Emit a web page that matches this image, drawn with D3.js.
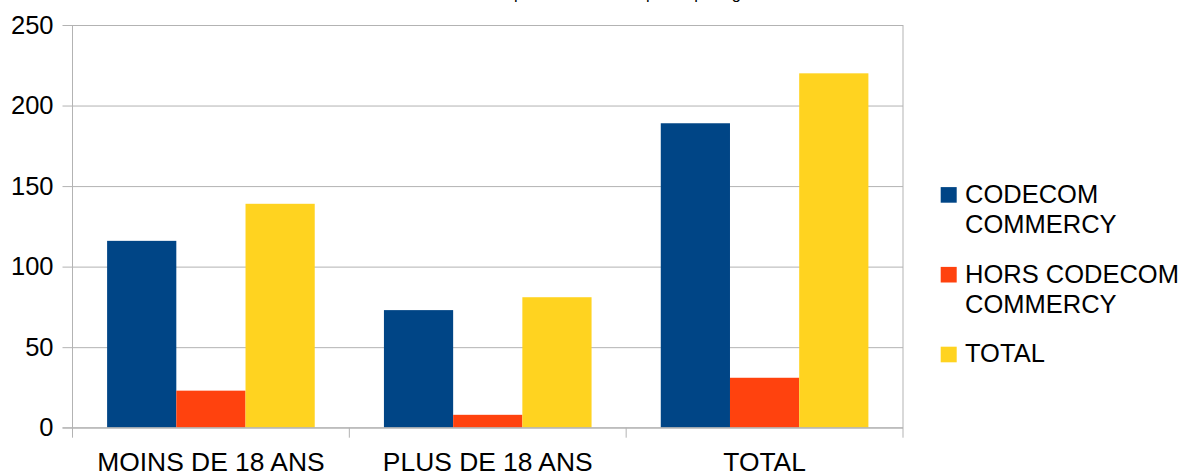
<!DOCTYPE html>
<html>
<head>
<meta charset="utf-8">
<script src="https://cdn.jsdelivr.net/npm/d3@7"></script>
<style>
  body { margin: 0; background: #fff; }
  svg { display: block; font-family: "Liberation Sans", Arial, sans-serif; }
</style>
</head>
<body>
<div id="chart"></div>
<script>
// values
var categories = ['MOINS DE 18 ANS', 'PLUS DE 18 ANS', 'TOTAL'];
var seriesNames = ['CODECOM COMMERCY', 'HORS CODECOM COMMERCY', 'TOTAL'];
var legendLines = [['CODECOM', 'COMMERCY'], ['HORS CODECOM', 'COMMERCY'], ['TOTAL']];
var codecom = [116, 73, 189];
var horsCodecom = [23, 8, 31];
var total = [139, 81, 220];
var yTicks = [0, 50, 100, 150, 200, 250];
var titleText = 'Répartition des inscriptions par âge';

var colors = ['#004586', '#ff420e', '#ffd320'];
var seriesValues = [codecom, horsCodecom, total];

var width = 1182;
var height = 473;
// note: "top" is taken by window.top, so plot* names
var plotLeft = 72.5, plotRight = 903, plotTop = 25, plotBottom = 427.7;
var fontSize = 25.5;

var svg = d3.select('#chart').append('svg')
  .attr('width', width)
  .attr('height', height);

var x0 = d3.scaleBand().domain(categories).range([plotLeft, plotRight]).padding(0);
var bw = x0.bandwidth();
var x1 = d3.scaleBand().domain(seriesNames).range([bw * 0.125, bw * 0.875]).padding(0);
var y = d3.scaleLinear().domain([0, 250]).range([plotBottom, plotTop]);

// title, only the descenders show at the top edge
svg.append('text')
  .attr('x', 493)
  .attr('y', -0.8)
  .style('font-size', '16.4px')
  .attr('fill', '#000')
  .text(titleText);

// grid + y labels
var yAxis = svg.append('g')
  .attr('transform', 'translate(' + plotLeft + ',0)')
  .call(d3.axisLeft(y).tickValues(yTicks).tickSize(10).tickPadding(9));
yAxis.select('.domain').remove();
yAxis.selectAll('line')
  .attr('x1', -10)
  .attr('x2', plotRight - plotLeft)
  .attr('stroke', '#b3b3b3');
yAxis.selectAll('text')
  .style('font-size', fontSize + 'px')
  .style('font-family', '"Liberation Sans", Arial, sans-serif')
  .attr('fill', '#000');

// bars
var groups = svg.append('g').selectAll('g')
  .data(categories)
  .enter().append('g')
  .attr('transform', function (d) { return 'translate(' + x0(d) + ',0)'; });

groups.selectAll('rect')
  .data(function (d, i) {
    return seriesNames.map(function (s, j) { return { s: s, v: seriesValues[j][i], j: j }; });
  })
  .enter().append('rect')
  .attr('x', function (d) { return x1(d.s); })
  .attr('width', x1.bandwidth())
  .attr('y', function (d) { return y(d.v); })
  .attr('height', function (d) { return y(0) - y(d.v); })
  .attr('fill', function (d) { return colors[d.j]; });

// axis lines and category ticks
var tickBottom = plotBottom + 10;
svg.append('line')
  .attr('x1', plotLeft).attr('x2', plotLeft)
  .attr('y1', plotTop).attr('y2', tickBottom)
  .attr('stroke', '#b3b3b3');
svg.append('line')
  .attr('x1', plotRight).attr('x2', plotRight)
  .attr('y1', plotTop).attr('y2', tickBottom)
  .attr('stroke', '#b3b3b3');
svg.append('line')
  .attr('x1', plotLeft - 10).attr('x2', plotRight)
  .attr('y1', y(0)).attr('y2', y(0))
  .attr('stroke', '#b3b3b3');
svg.append('g').selectAll('line')
  .data(categories.slice(1))
  .enter().append('line')
  .attr('x1', function (d) { return x0(d); })
  .attr('x2', function (d) { return x0(d); })
  .attr('y1', plotBottom).attr('y2', tickBottom)
  .attr('stroke', '#b3b3b3');

svg.append('g').selectAll('text')
  .data(categories)
  .enter().append('text')
  .attr('x', function (d) { return x0(d) + bw / 2; })
  .attr('y', 470.5)
  .attr('text-anchor', 'middle')
  .style('font-size', '26.4px')
  .attr('fill', '#000')
  .text(function (d) { return d; });

// legend
var legend = svg.append('g').selectAll('g')
  .data(seriesNames)
  .enter().append('g')
  .attr('transform', function (d, i) { return 'translate(940.7,' + (202.7 + i * 79.8) + ')'; });

legend.append('rect')
  .attr('x', 0).attr('y', -15.6)
  .attr('width', 16).attr('height', 15.6)
  .attr('fill', function (d, i) { return colors[i]; });

legend.append('text')
  .attr('x', 24.3)
  .attr('y', 0)
  .style('font-size', fontSize + 'px')
  .attr('fill', '#000')
  .selectAll('tspan')
  .data(function (d, i) { return legendLines[i]; })
  .enter().append('tspan')
  .attr('x', 24.3)
  .attr('dy', function (d, k) { return k === 0 ? 0 : 30.5; })
  .text(function (d) { return d; });
</script>
</body>
</html>
